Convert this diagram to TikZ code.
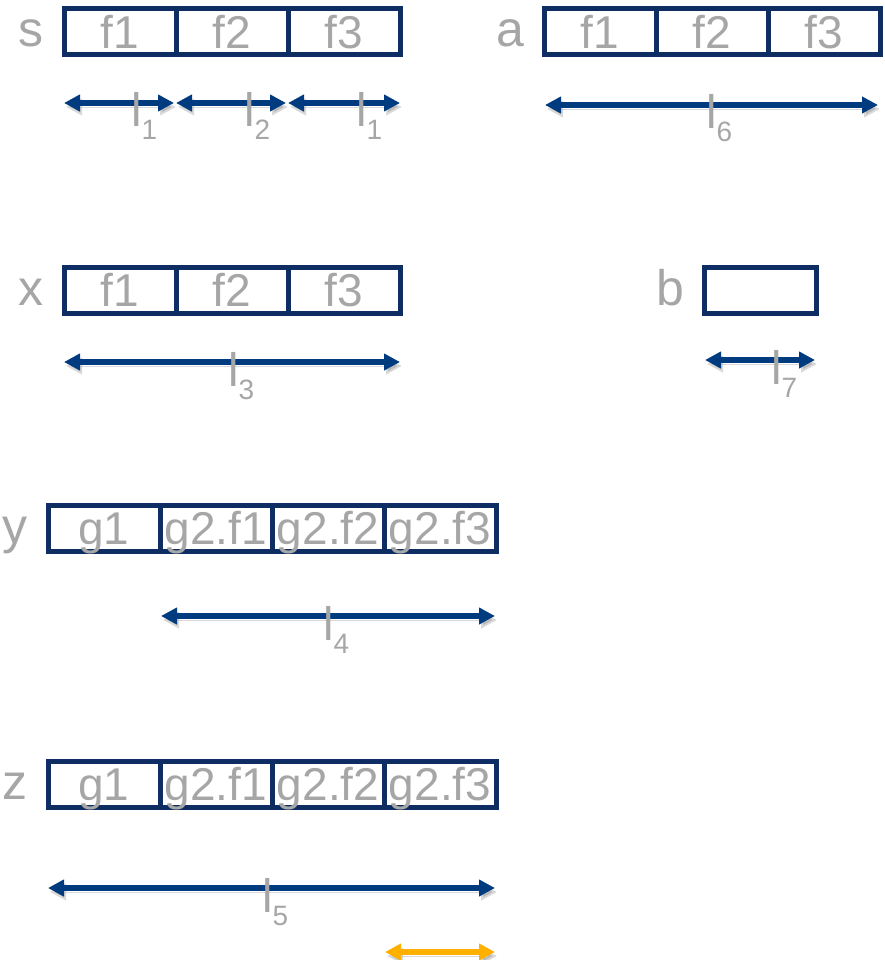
\documentclass[tikz,border=0pt]{standalone}
\usepackage{fontspec}
\setmainfont{Liberation Sans}
\usetikzlibrary{arrows.meta, positioning}
\definecolor{cnavy}{HTML}{0E2D63}
\definecolor{cblue}{HTML}{003B80}
\definecolor{corange}{HTML}{FFB000}
\definecolor{cgrey}{HTML}{A6A6A6}
\newcommand{\lsym}[1]{l\raisebox{-13pt}{\fontsize{28}{28}\selectfont #1}}
\tikzset{
  cell/.style={draw=cnavy, line width=5pt, minimum width=112pt, minimum height=46pt, inner sep=0pt, outer sep=0pt,
    text=cgrey, text height=33pt, text depth=0pt, font=\fontsize{46}{48}\selectfont},
  tag/.style={text=cgrey, inner sep=0pt, font=\fontsize{50}{52}\selectfont, anchor=base east, yshift=-15pt},
  span/.style={{Triangle[length=16pt, width=16pt]}-{Triangle[length=16pt, width=16pt]}, draw=cblue, line width=5.5pt,
    preaction={draw=black, opacity=0.15, transform canvas={shift={(2pt,-4pt)}}}},
  dim/.style={text=cgrey, inner sep=0pt, anchor=base west, font=\fontsize{47}{48}\selectfont},
}

\begin{document}
\begin{tikzpicture}[x=1pt, y=-1pt]
  \useasboundingbox (0,0) rectangle (884,960);
  \foreach \row/\cx/\cy in {s/120/32, a/600/32, x/120/290} {
    \node[cell] (\row1) at (\cx,\cy) {f1};
    \node[cell, right=0pt of \row1] (\row2) {f2};
    \node[cell, right=0pt of \row2] (\row3) {f3};
    \node[left=20pt of \row1, tag] (\row-tag) {\row};
  }
  \node[cell] (b1) at (760,290) {};
  \node[left=20pt of b1, tag] (b-tag) {b};
  \foreach \row/\cy in {y/528, z/784} {
    \node[cell] (\row1) at (104,\cy) {g1};
    \node[cell, right=0pt of \row1] (\row2) {g2.f1};
    \node[cell, right=0pt of \row2] (\row3) {g2.f2};
    \node[cell, right=0pt of \row3] (\row4) {g2.f3};
    \node[left=20pt of \row1, tag] (\row-tag) {\row};
  }
  \foreach \n/\xa/\xb/\ya/\xl/\sub in {s1/64/174/103/134/1, s2/176/286/103/247/2, s3/288/400/103/359/1,
      a/545/878/105/709/6, x/64/400/362/231/3, b/705/815/360/774/7, y/161/495/616/326/4, z/48/495/888/265/5} {
    \coordinate (d\n-a) at (\xa,\ya);
    \coordinate (d\n-b) at (\xb,\ya);
    \draw[span] (d\n-a) -- (d\n-b);
    \node[dim] (l\n) at ({\xl-3},{\ya+24}) {\lsym{\sub}};
  }
  \coordinate (dz-c) at (385,952);
  \coordinate (dz-d) at (495,952);
  \draw[span, draw=corange] (dz-c) -- (dz-d);
\end{tikzpicture}
\end{document}
